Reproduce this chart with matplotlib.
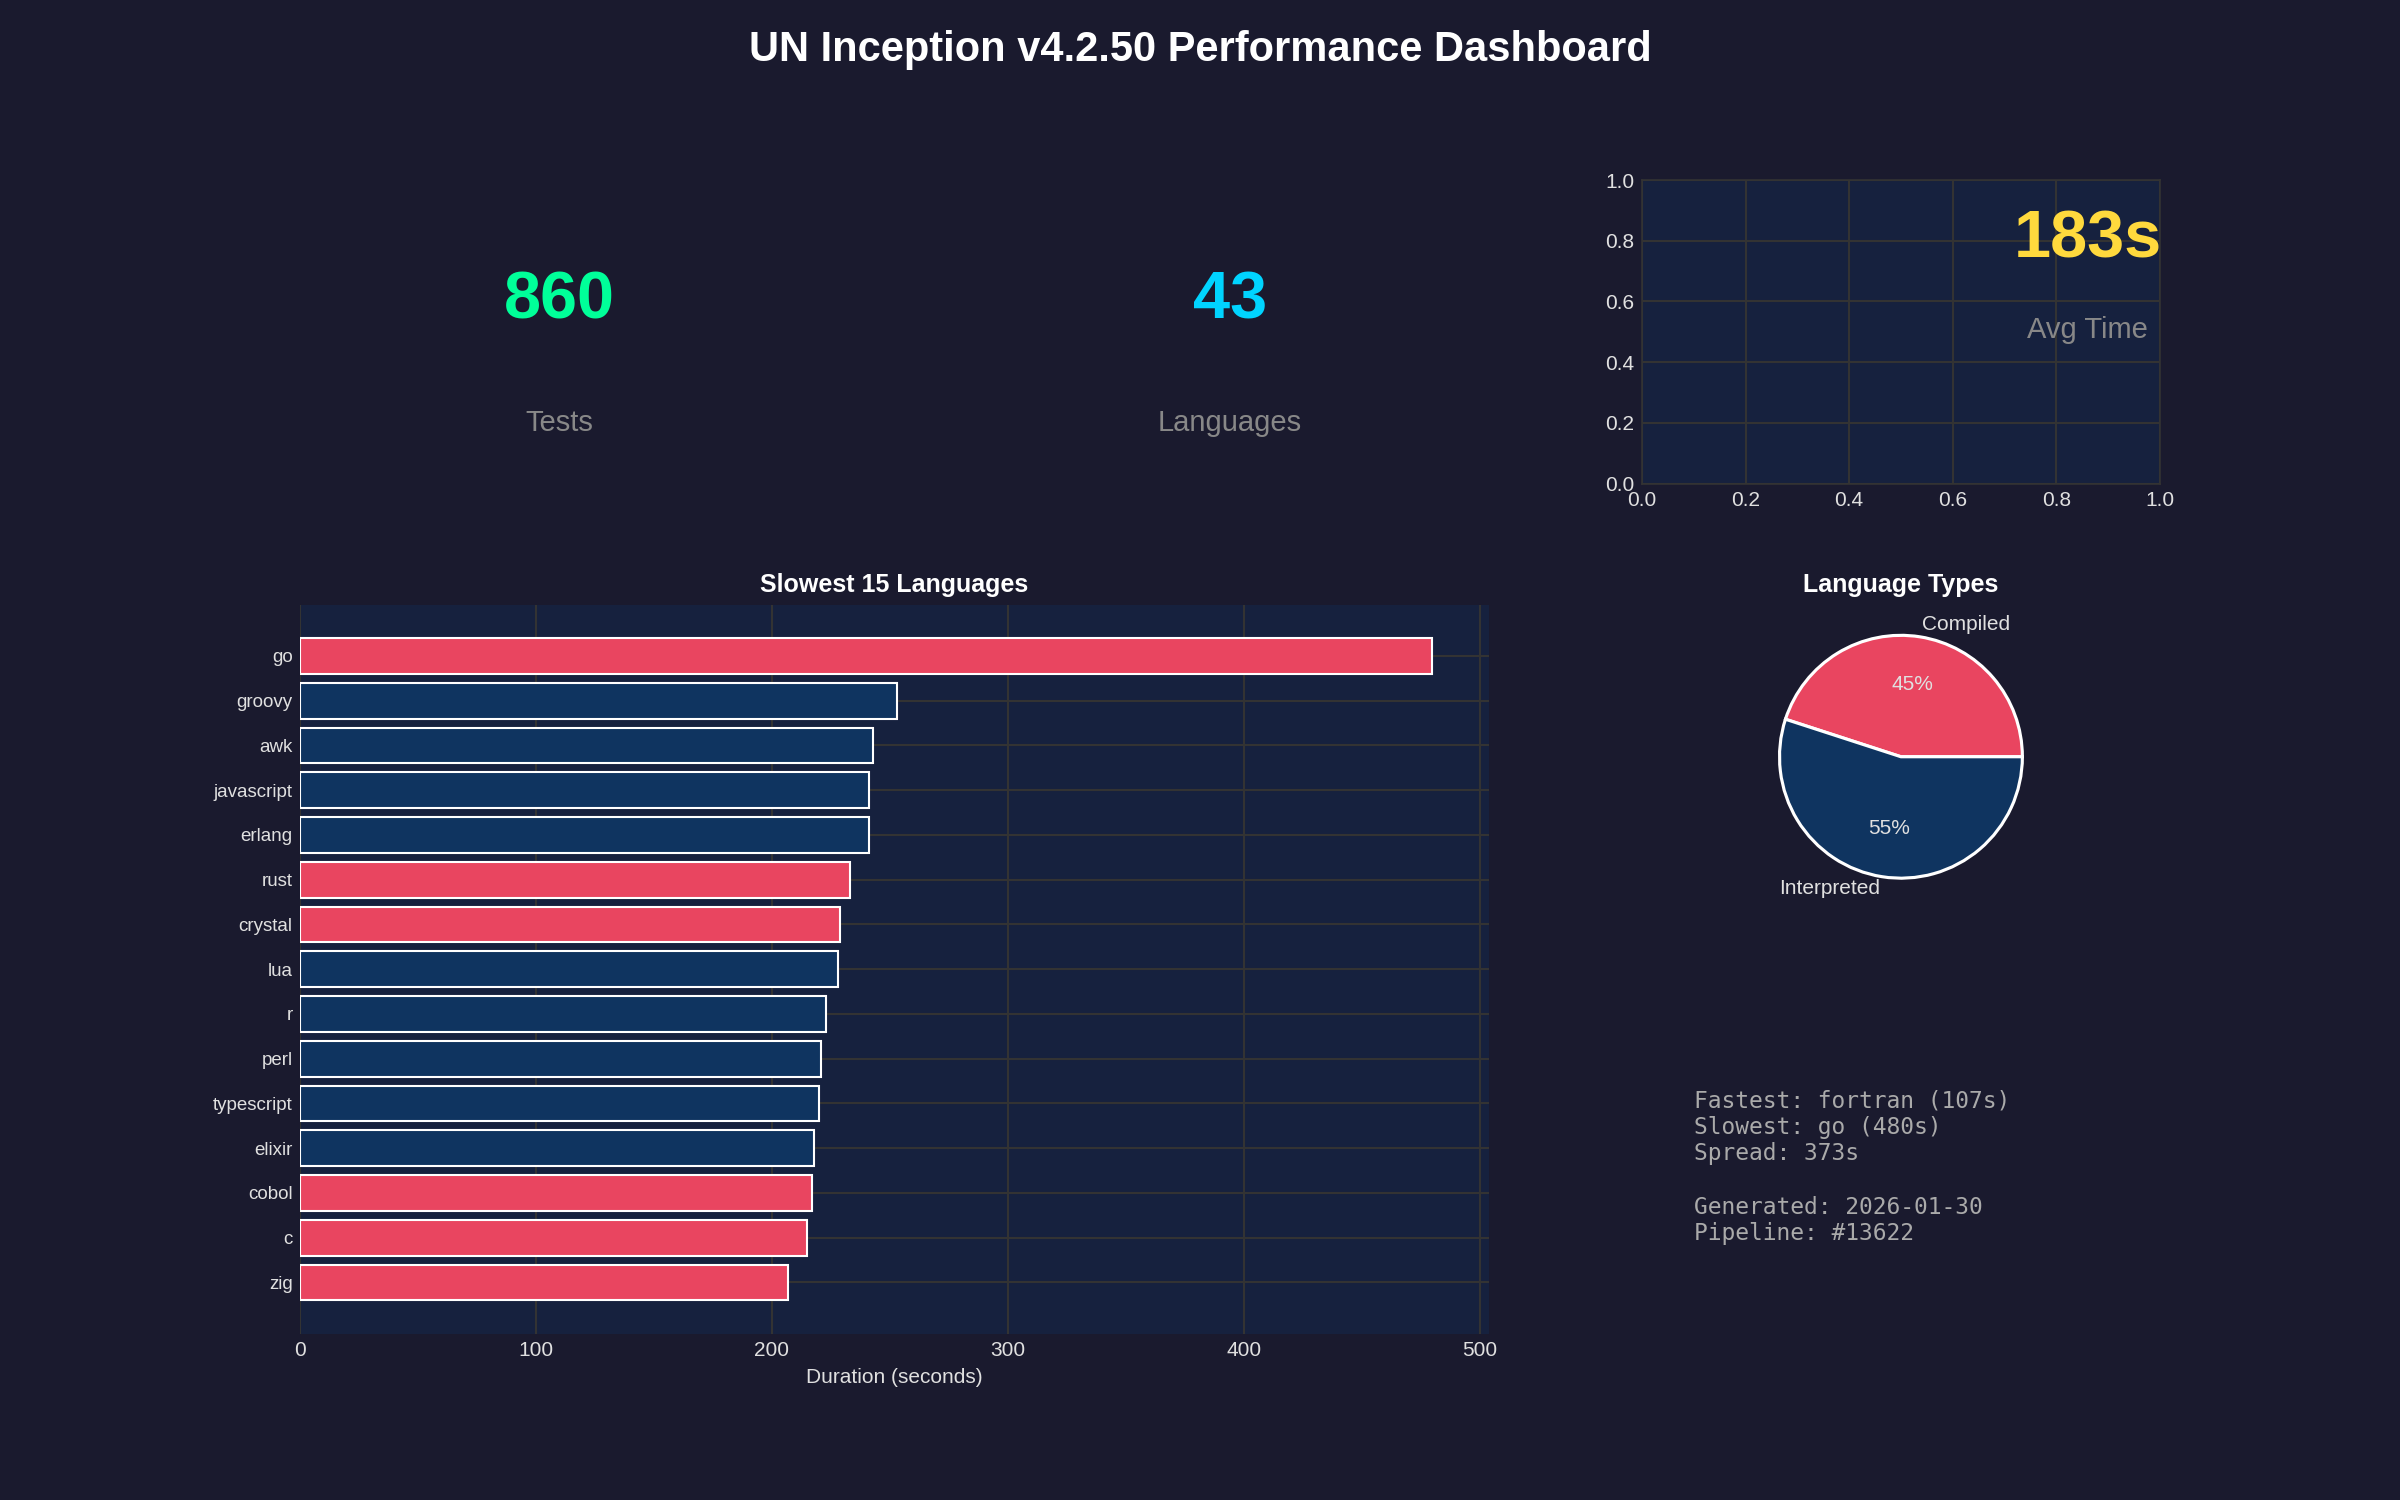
import matplotlib.pyplot as plt

languages = ["go", "groovy", "awk", "javascript", "erlang", "rust", "crystal", "lua",
             "r", "perl", "typescript", "elixir", "cobol", "c", "zig"]
durations = [480, 253, 243, 241, 241, 233, 229, 228, 223, 221, 220, 218, 217, 215, 207]
compiled = [True, False, False, False, False, True, True, False,
            False, False, False, False, True, True, True]

pie_labels = ["Compiled", "Interpreted"]
pie_values = [45, 55]

kpi_values = ["860", "43", "183s"]
kpi_labels = ["Tests", "Languages", "Avg Time"]
kpi_colors = ["#00ff99", "#00d4ff", "#ffd93d"]

summary_lines = [
    "Fastest: fortran (107s)",
    "Slowest: go (480s)",
    "Spread: 373s",
    "",
    "Generated: 2026-01-30",
    "Pipeline: #13622",
]

BG = "#1a1a2e"
PANEL = "#16213e"
RED = "#e94560"
BLUE = "#0f3460"
GRID = "#333333"
TXT = "#e0e0e0"

plt.rcParams["font.family"] = ["Liberation Sans", "DejaVu Sans"]

fig = plt.figure(figsize=(16, 10), dpi=150, facecolor=BG)
gs = fig.add_gridspec(3, 3, left=0.125, right=0.9, top=0.88, bottom=0.111,
                      wspace=0.295, hspace=0.4)

fig.suptitle("UN Inception v4.2.50 Performance Dashboard", fontsize=20,
             fontweight="bold", color="white", y=0.98)

# KPI cards
for i in range(2):
    ax = fig.add_subplot(gs[0, i])
    ax.axis("off")
    ax.text(0.5, 0.6, kpi_values[i], ha="center", va="center", fontsize=32,
            fontweight="bold", color=kpi_colors[i], transform=ax.transAxes)
    ax.text(0.5, 0.2, kpi_labels[i], ha="center", va="center", fontsize=14,
            color="#888888", transform=ax.transAxes)

ax3 = fig.add_subplot(gs[0, 2])
ax3.set_facecolor(PANEL)
ax3.grid(True, color=GRID, linewidth=1)
ax3.set_axisbelow(True)
for s in ax3.spines.values():
    s.set_color(GRID)
ax3.tick_params(colors=TXT, labelsize=10, length=0)
ax3.text(0.86, 0.8, kpi_values[2], ha="center", va="center", fontsize=32,
         fontweight="bold", color=kpi_colors[2], transform=ax3.transAxes)
ax3.text(0.86, 0.505, kpi_labels[2], ha="center", va="center", fontsize=14,
         color="#888888", transform=ax3.transAxes)

# Slowest languages bar chart
axb = fig.add_subplot(gs[1:, :2])
axb.set_facecolor(PANEL)
colors = [RED if c else BLUE for c in compiled]
axb.barh(languages, durations, color=colors, edgecolor="white", linewidth=1)
axb.invert_yaxis()
axb.set_axisbelow(True)
axb.grid(True, color=GRID, linewidth=1)
for s in axb.spines.values():
    s.set_visible(False)
axb.tick_params(colors=TXT, labelsize=9, length=0)
axb.tick_params(axis="x", labelsize=10)
axb.set_xlabel("Duration (seconds)", color=TXT, fontsize=10)
axb.set_title("Slowest 15 Languages", color="white", fontsize=12, fontweight="bold")

# Pie of language types
axp = fig.add_subplot(gs[1, 2])
axp.pie(pie_values, labels=pie_labels, colors=[RED, BLUE], autopct="%1.0f%%",
        startangle=0, wedgeprops={"edgecolor": "white", "linewidth": 1.5},
        textprops={"color": TXT, "fontsize": 10})
axp.set_title("Language Types", color="white", fontsize=12, fontweight="bold")

# Summary text
axt = fig.add_subplot(gs[2, 2])
axt.axis("off")
axt.text(0.1, 0.805, "\n".join(summary_lines), ha="left", va="top",
         fontsize=11, family="DejaVu Sans Mono", color="#aaaaaa",
         transform=axt.transAxes)

fig.savefig("out.png", dpi=150, facecolor=BG)
